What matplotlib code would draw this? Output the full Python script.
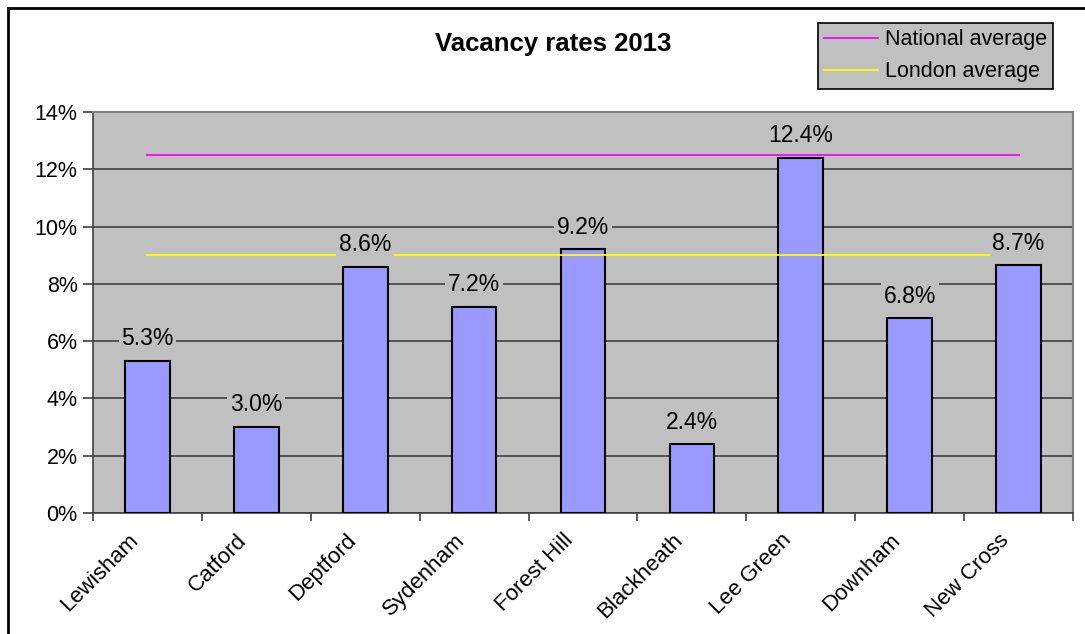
import matplotlib
matplotlib.use("Agg")
from matplotlib import pyplot as plt
from matplotlib.patches import Rectangle
from matplotlib.ticker import FuncFormatter, MultipleLocator
from matplotlib.transforms import ScaledTranslation

plt.rcParams['font.family'] = ['Liberation Sans', 'DejaVu Sans']

areas = ["Lewisham", "Catford", "Deptford", "Sydenham", "Forest Hill",
         "Blackheath", "Lee Green", "Downham", "New Cross"]
vacancy = [5.3, 3.0, 8.6, 7.2, 9.2, 2.4, 12.4, 6.8, 8.65]
national_avg = 12.5
london_avg = 9.0

fig = plt.figure(figsize=(10.85, 6.34), dpi=100)
fig.patches.append(Rectangle((8 / 1085, -0.1), 1.2, 1 - 8 / 634 + 0.1,
                             transform=fig.transFigure, fill=False,
                             edgecolor="black", linewidth=2))

ax = fig.add_axes([93 / 1085, 121 / 634, 980 / 1085, 401 / 634])
ax.set_facecolor("#C0C0C0")
x = list(range(len(areas)))

ax.bar(x, vacancy, width=0.41, color="#9999FF", edgecolor="black",
       linewidth=1.5, zorder=3)
ax.plot([x[0], x[-1]], [national_avg] * 2, color="#FF00FF", linewidth=1.3,
        label="National average", zorder=4)
ax.plot([x[0], x[-1]], [london_avg] * 2, color="#FFFF00", linewidth=1.3,
        label="London average", zorder=4)

for xi, v in zip(x, vacancy):
    ax.annotate(f"{v:.1f}%", (xi, v), xytext=(0, 16), textcoords="offset points",
                ha="center", va="center", fontsize=16.5, zorder=5,
                bbox=dict(facecolor="#C0C0C0", edgecolor="none", pad=2))

ax.set_xlim(-0.5, len(areas) - 0.5)
ax.set_ylim(0, 14)
ax.yaxis.set_major_locator(MultipleLocator(2))
ax.yaxis.set_major_formatter(FuncFormatter(lambda v, p: f"{v:.0f}%"))
ax.grid(axis="y", color="#404040", linewidth=1.2, zorder=1)
ax.set_axisbelow(True)

ax.set_xticks([i - 0.5 for i in range(len(areas) + 1)], minor=True)
ax.tick_params(axis="x", which="major", length=0, pad=12, labelsize=16)
ax.tick_params(axis="x", which="minor", length=6, color="#404040", width=1.2)
ax.tick_params(axis="y", length=7, color="#404040", width=1.2, labelsize=15.5, pad=4)
ax.set_xticks(x)
ax.set_xticklabels(areas, rotation=45, ha="right", rotation_mode="anchor")
shift = ScaledTranslation(-20 / 100, 0, fig.dpi_scale_trans)
for lbl in ax.get_xticklabels():
    lbl.set_transform(lbl.get_transform() + shift)

for side in ["top", "right"]:
    ax.spines[side].set_color("#808080")
    ax.spines[side].set_linewidth(1.5)
for side in ["left", "bottom"]:
    ax.spines[side].set_color("#404040")
    ax.spines[side].set_linewidth(1.2)

fig.text(553 / 1085, 1 - 44 / 634, "Vacancy rates 2013", ha="center", va="center",
         fontsize=18.5, fontweight="bold")

leg = fig.legend(loc="upper left", bbox_to_anchor=(818 / 1085, 1 - 23 / 634),
                 fontsize=15.5, frameon=True, fancybox=False, handlelength=2.5,
                 handletextpad=0.3, borderpad=0.3, labelspacing=0.5,
                 borderaxespad=0)
leg.get_frame().set_facecolor("#C0C0C0")
leg.get_frame().set_edgecolor("black")
leg.get_frame().set_linewidth(1.2)
leg.get_frame().set_alpha(1)

fig.savefig("out.png", dpi=100)
